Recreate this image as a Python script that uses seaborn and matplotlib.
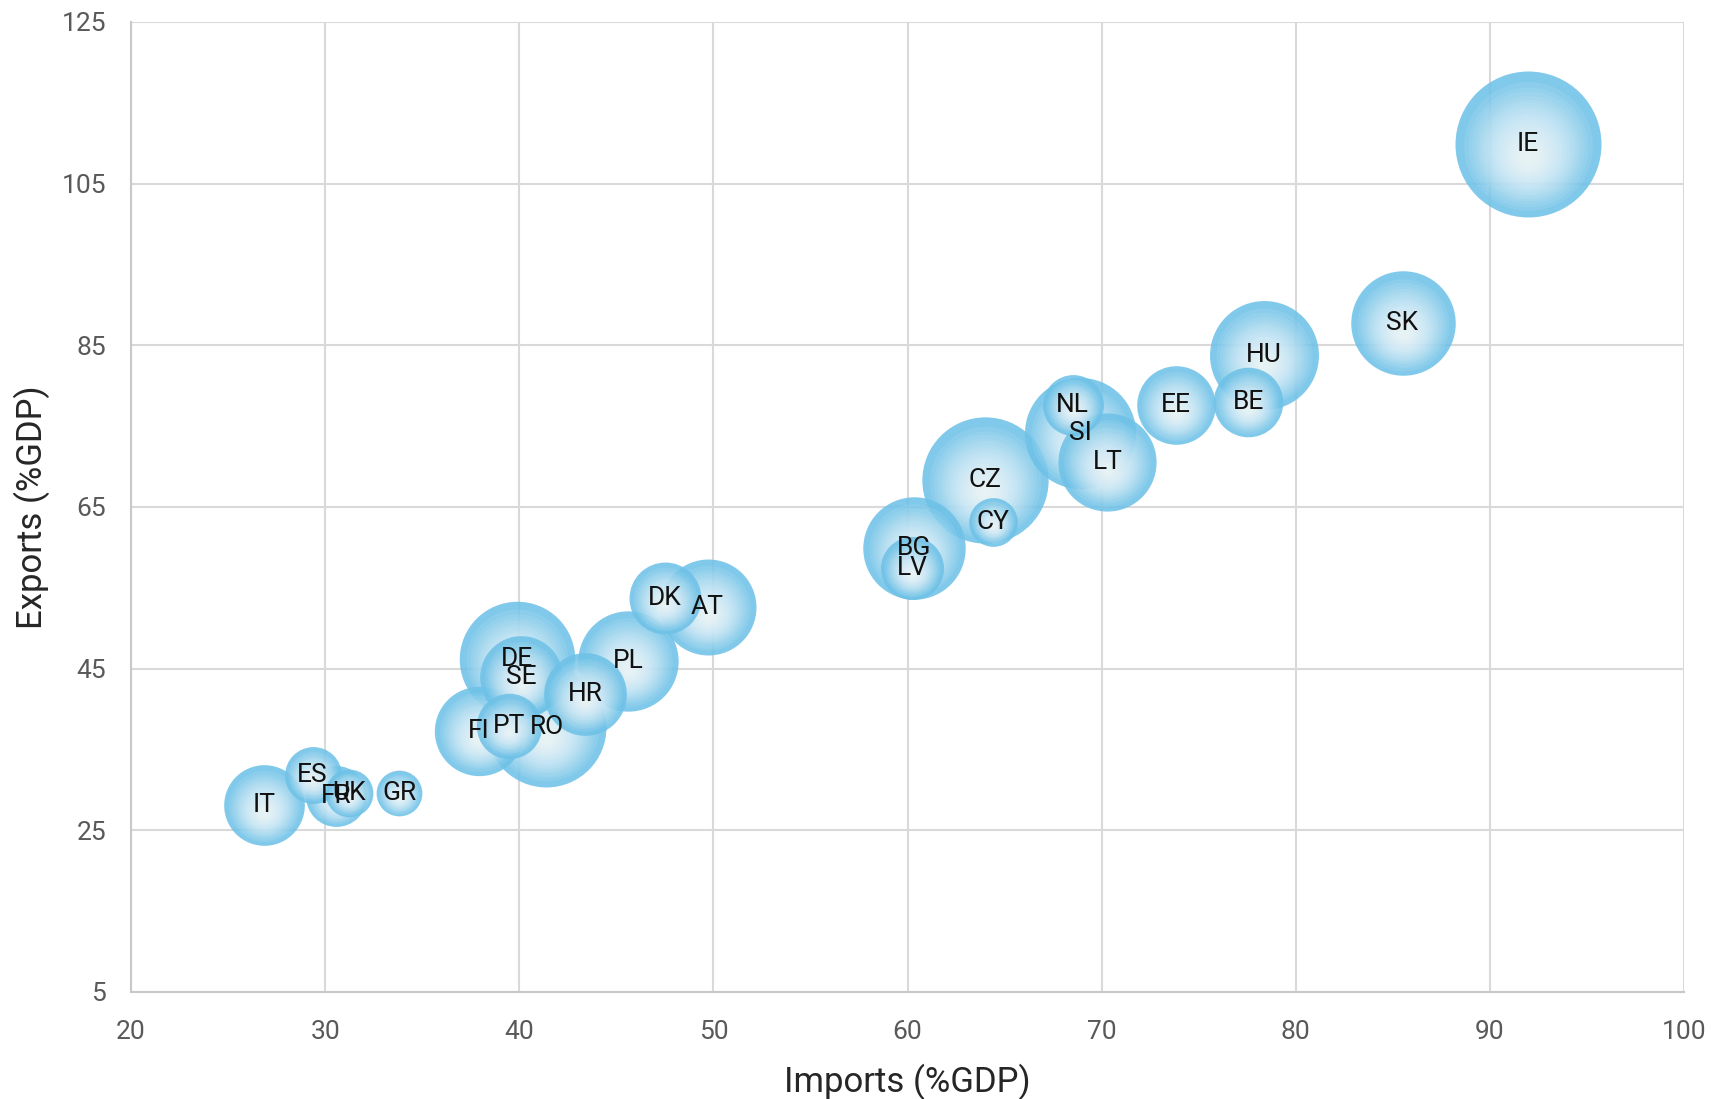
import matplotlib
matplotlib.use('Agg')
import matplotlib.pyplot as plt
import matplotlib.transforms as mtransforms
import numpy as np
import pandas as pd
import seaborn as sns

# Data
countries = ['IE', 'SK', 'HU', 'BE', 'EE', 'NL', 'SI', 'LT', 'CZ', 'CY',
             'BG', 'LV', 'DK', 'AT', 'PL', 'DE', 'SE', 'HR', 'FI', 'PT',
             'RO', 'IT', 'ES', 'FR', 'UK', 'GR']
imports_gdp = [91.95, 85.5, 78.35, 77.55, 73.85, 68.5, 68.9, 70.3, 64.0, 64.4,
               60.35, 60.25, 47.5, 49.7, 45.6, 39.9, 40.1, 43.4, 37.9, 39.45,
               41.4, 26.85, 29.35, 30.55, 31.25, 33.8]
exports_gdp = [109.9, 87.7, 83.8, 78.0, 77.6, 77.6, 74.1, 70.6, 68.3, 63.2,
               59.9, 57.4, 53.7, 52.65, 46.0, 46.2, 44.0, 41.9, 37.3, 37.9,
               37.8, 28.1, 31.8, 29.2, 29.6, 29.6]
bubble = [44.9, 23.0, 25.0, 10.2, 13.0, 7.8, 26.0, 20.3, 33.6, 5.0,
          22.1, 8.4, 10.9, 19.4, 21.2, 28.1, 14.4, 14.4, 16.8, 9.0,
          30.3, 13.7, 6.8, 7.8, 4.8, 4.4]
x_ticks = [20, 30, 40, 50, 60, 70, 80, 90, 100]
y_ticks = [5, 25, 45, 65, 85, 105, 125]

df = pd.DataFrame({'country': countries, 'imports': imports_gdp,
                   'exports': exports_gdp, 'bubble': bubble})
# big bubbles first so the small ones sit on top
df = df.sort_values('bubble', ascending=False).reset_index(drop=True)

sns.set_theme(style='white')
plt.rcParams['font.family'] = ['Roboto', 'DejaVu Sans']

fig = plt.figure(figsize=(17.11, 10.99), dpi=100)
ax = fig.add_axes([0.0766, 0.0974, 0.9076, 0.8826])

edge_col = np.array([0x6e, 0xc1, 0xe7]) / 255
center_col = np.array([0xfa, 0xfd, 0xff]) / 255
max_diam_pt = 146 * 0.72  # diameter of the largest bubble
n_layers = 26

for _, row in df.iterrows():
    s_full = max_diam_pt ** 2 * row['bubble'] / df['bubble'].max()
    r_pt = np.sqrt(s_full) / 2
    sns.scatterplot(x=[row['imports']], y=[row['exports']], s=s_full,
                    color=edge_col, alpha=0.87, linewidth=0, ax=ax,
                    legend=False, zorder=2)
    # lighter inner layers give the radial gradient, shifted slightly down
    for k in range(1, n_layers + 1):
        f = 0.98 * (1 - (k / (n_layers + 1)) ** 0.7)
        shift = -(1 - f) * 0.2 * r_pt / 72
        tr = ax.transData + mtransforms.ScaledTranslation(0, shift, fig.dpi_scale_trans)
        ax.scatter(row['imports'], row['exports'], s=s_full * f ** 2,
                   color=center_col, alpha=0.085, linewidths=0,
                   transform=tr, zorder=2)

for _, row in df.iterrows():
    ax.text(row['imports'], row['exports'], row['country'], ha='center',
            va='center', fontsize=19, color='#111111', zorder=5)

ax.set_xlim(20, 100)
ax.set_ylim(5, 125)
ax.set_xticks(x_ticks)
ax.set_yticks(y_ticks)
ax.grid(True, color='#d9d9d9', linewidth=1.5, zorder=0)
ax.set_axisbelow(True)
for side in ['top', 'right']:
    ax.spines[side].set_visible(False)
for side in ['left', 'bottom']:
    ax.spines[side].set_color('#c8c8c8')
    ax.spines[side].set_linewidth(1.5)
ax.tick_params(axis='both', length=0, labelsize=19, labelcolor='#595959')
ax.tick_params(axis='y', pad=18)
ax.tick_params(axis='x', pad=20)
ax.set_xlabel('Imports (%GDP)', fontsize=25, color='#262626', labelpad=14)
ax.set_ylabel('Exports (%GDP)', fontsize=25, color='#262626', labelpad=8)

fig.savefig('out.png', dpi=100)
